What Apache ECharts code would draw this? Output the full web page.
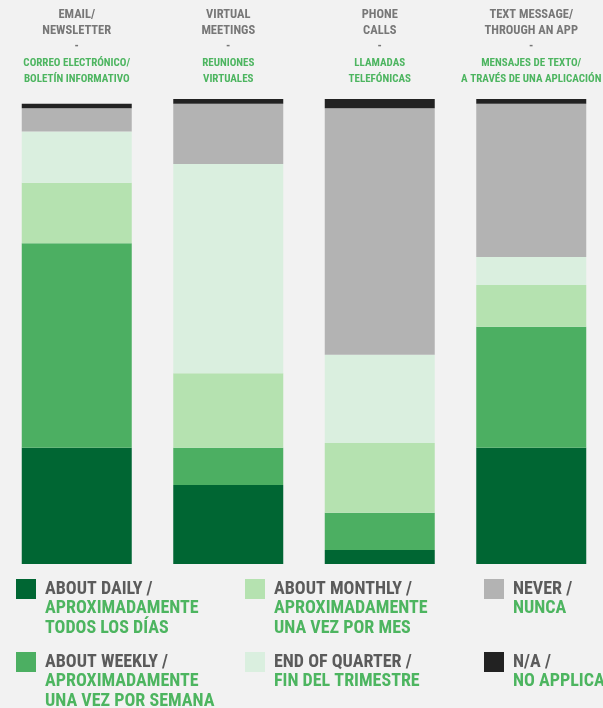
<!DOCTYPE html>
<html>
<head>
<meta charset="utf-8">
<script src="https://cdn.jsdelivr.net/npm/echarts@6/dist/echarts.min.js"></script>
<style>
  html, body { margin: 0; padding: 0; background: #f2f2f2; }
  #chart { width: 603px; height: 708px; }
</style>
</head>
<body>
<div id="chart"></div>
<script>
  // column headers (english / spanish)
  var headersEn = ['EMAIL/\nNEWSLETTER', 'VIRTUAL\nMEETINGS', 'PHONE\nCALLS', 'TEXT MESSAGE/\nTHROUGH AN APP'];
  var headersEs = ['CORREO ELECTRÓNICO/\nBOLETÍN INFORMATIVO', 'REUNIONES\nVIRTUALES', 'LLAMADAS\nTELEFÓNICAS', 'MENSAJES DE TEXTO/\nA TRAVÉS DE UNA APLICACIÓN'];

  // percent of respondents, bottom to top
  var daily   = [25, 17, 3, 25];
  var weekly  = [44, 8, 8, 26];
  var monthly = [13, 16, 15, 9];
  var quarter = [11, 45, 19, 6];
  var never   = [5, 13, 53, 33];
  var na      = [1, 1, 2, 1];

  var seriesNames = ['daily', 'weekly', 'monthly', 'quarter', 'never', 'na'];
  var legendEn = ['ABOUT DAILY /', 'ABOUT WEEKLY /', 'ABOUT MONTHLY /', 'END OF QUARTER /', 'NEVER /', 'N/A /'];
  var legendEs = ['APROXIMADAMENTE\nTODOS LOS DÍAS', 'APROXIMADAMENTE\nUNA VEZ POR SEMANA', 'APROXIMADAMENTE\nUNA VEZ POR MES', 'FIN DEL TRIMESTRE\n ', 'NUNCA\n ', 'NO APPLICA\n '];
  var colors = ['#006633', '#4caf62', '#b5e2b0', '#daefdf', '#b3b3b3', '#222222'];

  var font = '"Roboto Condensed", Roboto, sans-serif';
  var gray = '#777777', green = '#4db560';

  var my_chart = echarts.init(document.getElementById('chart'));

  var values = [daily, weekly, monthly, quarter, never, na];
  var series = values.map(function (d, i) {
    return {
      name: seriesNames[i],
      type: 'bar',
      stack: 'all',
      barWidth: 110,
      data: d,
      itemStyle: { color: colors[i] }
    };
  });

  // one legend per item so the 3x2 block can be placed freely
  var legendLeft = [16, 16, 245, 245, 484, 484];
  var legendTop = [579, 652, 579, 652, 579, 652];
  var legends = seriesNames.map(function (name, i) {
    return {
      data: [name],
      left: legendLeft[i],
      top: legendTop[i],
      orient: 'vertical',
      padding: 0,
      itemWidth: 24,
      itemHeight: 59,
      icon: 'path://M0,0L20,0L20,20L0,20Z M24,59',
      selectedMode: false,
      formatter: function () {
        return '{en|' + legendEn[i] + '}\n{es|' + legendEs[i] + '}';
      },
      textStyle: {
        rich: {
          en: { color: '#5b5b5b', fontFamily: font, fontWeight: 'bold', fontSize: 18, lineHeight: 19.5 },
          es: { color: green, fontFamily: font, fontWeight: 'bold', fontSize: 18, lineHeight: 19.5 }
        }
      }
    };
  });

  my_chart.setOption({
    backgroundColor: '#f2f2f2',
    animation: false,
    grid: { left: 1, width: 606, top: 99, bottom: 144, outerBoundsMode: 'none' },
    xAxis: {
      type: 'category',
      position: 'top',
      data: [0, 1, 2, 3],
      axisLine: { show: false },
      axisTick: { show: false },
      axisLabel: {
        margin: 12,
        interval: 0,
        hideOverlap: false,
        formatter: function (v, idx) {
          return '{en|' + headersEn[idx] + '}\n{dash|-}\n{es|' + headersEs[idx] + '}';
        },
        rich: {
          en: { color: gray, fontFamily: font, fontWeight: 'bold', fontSize: 12.5, lineHeight: 16, align: 'center' },
          dash: { color: gray, fontFamily: font, fontWeight: 'bold', fontSize: 12, lineHeight: 16, align: 'center' },
          es: { color: green, fontFamily: font, fontWeight: 'bold', fontSize: 11, lineHeight: 16, align: 'center' }
        }
      }
    },
    yAxis: { type: 'value', min: 0, max: 100, show: false },
    legend: legends,
    series: series
  });
</script>
</body>
</html>
